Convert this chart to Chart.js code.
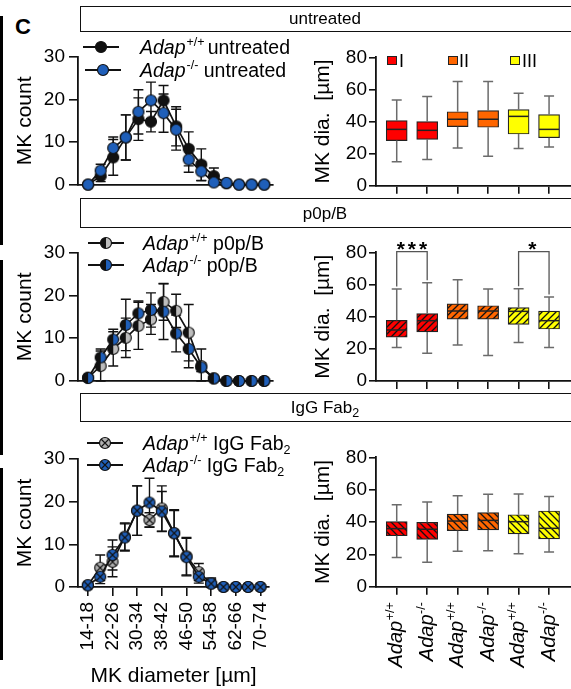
<!DOCTYPE html>
<html>
<head>
<meta charset="utf-8">
<script src="https://cdn.jsdelivr.net/npm/chart.js@4.4.1/dist/chart.umd.min.js"></script>
<style>
html,body{margin:0;padding:0;background:#fff}
body{width:571px;height:689px;position:relative;overflow:hidden;font-family:Arial,"Liberation Sans",Helvetica,sans-serif;color:#000}
.abs{position:absolute}
canvas{position:absolute}
.hdr{position:absolute;left:80px;width:500px;border:1.5px solid #111;box-sizing:border-box;z-index:1}
.hdr div{position:absolute;left:-1.5px;width:491px;text-align:center;font-size:17px;line-height:17px}
.leg{position:absolute;font-size:19.5px;line-height:19px;white-space:nowrap;z-index:3}
.sup{font-size:12.5px;position:relative;top:-8px;font-style:normal;margin-left:1px}
.sub{font-size:12.5px;position:relative;top:4px}
.bar{position:absolute;left:0;width:2.5px;background:#000}
.sq{position:absolute;width:8px;height:7px;border:1px solid #222;z-index:3}
.sql{position:absolute;font-size:18px;line-height:18px;z-index:3}
.mk{position:absolute;z-index:3}
</style>
</head>
<body>
<div class="bar" style="top:16px;height:229px"></div>
<div class="bar" style="top:260px;height:195px"></div>
<div class="bar" style="top:468px;height:192px"></div>
<div class="abs" style="left:15px;top:16px;font-size:22px;line-height:22px;font-weight:bold">C</div>

<div class="hdr" style="top:6px;height:26px"><div style="top:3px">untreated</div></div>
<div class="hdr" style="top:198px;height:30px"><div style="top:5.5px">p0p/B</div></div>
<div class="hdr" style="top:393px;height:29px"><div style="top:5px">IgG Fab<span class="sub">2</span></div></div>

<canvas id="cL1" width="290" height="200" style="left:0;top:0"></canvas>
<canvas id="cL2" width="290" height="200" style="left:0;top:200px"></canvas>
<canvas id="cL3" width="290" height="289" style="left:0;top:400px"></canvas>
<canvas id="cR1" width="281" height="200" style="left:290px;top:0"></canvas>
<canvas id="cR2" width="281" height="200" style="left:290px;top:200px"></canvas>
<canvas id="cR3" width="281" height="289" style="left:290px;top:400px"></canvas>

<canvas class="mk" id="m1" width="36" height="14" style="left:83px;top:40px"></canvas>
<canvas class="mk" id="m2" width="36" height="14" style="left:85px;top:63px"></canvas>
<canvas class="mk" id="m3" width="36" height="14" style="left:88px;top:236px"></canvas>
<canvas class="mk" id="m4" width="36" height="14" style="left:88px;top:258px"></canvas>
<canvas class="mk" id="m5" width="36" height="14" style="left:87px;top:436px"></canvas>
<canvas class="mk" id="m6" width="36" height="14" style="left:87px;top:458px"></canvas>

<div class="leg" style="left:140px;top:38px"><i>Adap</i><span class="sup">+/+</span><span style="margin-left:3px">untreated</span></div>
<div class="leg" style="left:140px;top:61px"><i>Adap</i><span class="sup">-/-</span> untreated</div>
<div class="leg" style="left:143px;top:234px"><i>Adap</i><span class="sup">+/+</span> p0p/B</div>
<div class="leg" style="left:143px;top:256px"><i>Adap</i><span class="sup">-/-</span> p0p/B</div>
<div class="leg" style="left:143px;top:434px"><i>Adap</i><span class="sup">+/+</span> IgG Fab<span class="sub">2</span></div>
<div class="leg" style="left:143px;top:456px"><i>Adap</i><span class="sup">-/-</span> IgG Fab<span class="sub">2</span></div>

<div class="sq" style="left:387px;top:56px;background:#ff0000"></div><div class="sql" style="left:399px;top:52px">I</div>
<div class="sq" style="left:448px;top:56px;background:#ff6600"></div><div class="sql" style="left:459px;top:52px">II</div>
<div class="sq" style="left:510px;top:56px;background:#ffff00"></div><div class="sql" style="left:522px;top:52px">III</div>

<script>
// ---------- data ----------
const binLabels = ['14-18','18-22','22-26','26-30','30-34','34-38','38-42','42-46','46-50','50-54','54-58','58-62','62-66','66-70','70-74'];
const labeledBins = [0,2,4,6,8,10,12,14];
const countTicks = [0,5,10,15,20,25,30];
const diaTicks = [0,20,40,60,80];

const untreatedWT    = [0, 2.0, 6.4, 11.1, 15.4, 14.8, 19.8, 13.7, 8.4, 4.7, 2.0, 0.3, 0, 0, 0];
const untreatedWTErr = [0, 1.3, 4.2, 5.3, 5.0, 2.4, 3.5, 4.6, 4.0, 3.7, 1.9, 0, 0, 0, 0];
const untreatedKO    = [0, 3.3, 8.6, 11.1, 17.1, 19.8, 16.8, 12.9, 5.9, 3.1, 0.5, 0.4, 0, 0, 0];
const untreatedKOErr = [0, 1.5, 2.6, 5.3, 5.2, 4.3, 4.5, 4.8, 3.0, 2.2, 0, 0, 0, 0, 0];

const p0pWT    = [0.8, 3.5, 7.5, 10.1, 12.9, 14.4, 18.5, 16.4, 11.3, 3.5, 0.6, 0, 0, 0, 0];
const p0pWTErr = [0, 3.5, 4.0, 4.6, 5.5, 3.5, 4.3, 3.9, 6.6, 4.0, 0, 0, 0, 0, 0];
const p0pKO    = [0.7, 5.5, 9.7, 13.1, 15.8, 16.6, 16.2, 11.1, 7.5, 3.2, 0.6, 0, 0, 0, 0];
const p0pKOErr = [0, 2.0, 2.4, 6.0, 2.9, 4.0, 6.5, 4.3, 4.4, 1.0, 0, 0, 0, 0, 0];

const fabWT    = [0.4, 4.5, 5.9, 11.8, 17.9, 15.7, 18.4, 12.6, 7.2, 3.5, 0.8, 0, 0, 0, 0];
const fabWTErr = [0, 3.0, 3.5, 3.2, 5.8, 1.7, 5.3, 5.5, 4.4, 2.0, 1.3, 0, 0, 0, 0];
const fabKO    = [0.4, 2.4, 7.5, 11.6, 17.9, 19.8, 17.7, 12.6, 7.0, 2.4, 0.8, 0, 0, 0, 0];
const fabKOErr = [0, 1.6, 3.5, 3.2, 5.8, 5.7, 4.7, 5.3, 4.4, 1.5, 1.0, 0, 0, 0, 0];

// box plots: [min, q1, median, q3, max]
const boxGenotypes = ['+/+','-/-','+/+','-/-','+/+','-/-'];
const boxGroupColors = ['#ff0000','#ff0000','#ff6600','#ff6600','#ffff00','#ffff00'];
const untreatedBoxes = [[15.0,28.1,35.1,40.5,53.4],[16.4,28.9,34.5,39.9,55.5],[23.5,36.8,41.4,46.1,65.0],[18.3,36.4,41.4,46.8,65.0],[23.1,32.2,43.2,47.4,57.6],[24.1,29.9,35.1,44.3,55.9]];
const p0pBoxes       = [[20.9,27.2,31.7,37.7,57.2],[17.2,30.5,37.5,41.9,61.1],[22.4,38.5,43.5,47.9,63.0],[15.8,38.5,43.5,46.8,57.2],[24.0,35.2,43.3,45.6,57.4],[20.9,32.3,37.5,43.5,52.2]];
const fabBoxes       = [[18.1,31.5,35.9,40.2,50.7],[15.1,29.3,35.5,39.8,52.4],[21.9,34.6,40.6,44.9,56.3],[22.3,35.1,41.0,45.8,57.1],[20.4,32.6,40.2,44.5,57.3],[21.4,29.5,36.1,46.8,55.7]];
const p0pSigPairs = [[0,1,'***'],[4,5,'*']];
const sigLevel = 80.4;

// ---------- styling helpers ----------
const BLUE = '#1f5fb9', LGRAY = '#bdbdbd', XGRAY = '#b0b0b0';
Chart.defaults.font.family = 'Arial, "Liberation Sans", Helvetica, sans-serif';
Chart.defaults.color = '#000';

function drawMarker(g, cx, cy, r, kind, fill) {
  g.save();
  g.lineWidth = 1.2; g.strokeStyle = '#111';
  g.beginPath(); g.arc(cx, cy, r, 0, 2*Math.PI); g.fillStyle = fill; g.fill();
  if (kind === 'half') {
    g.beginPath(); g.arc(cx, cy, r, Math.PI/2, Math.PI*1.5); g.closePath(); g.fillStyle = '#111'; g.fill();
  }
  if (kind === 'cross') {
    const d = r*0.68;
    g.beginPath(); g.moveTo(cx-d, cy-d); g.lineTo(cx+d, cy+d); g.moveTo(cx+d, cy-d); g.lineTo(cx-d, cy+d);
    g.lineWidth = 1.1; g.stroke(); g.lineWidth = 1.2;
  }
  g.beginPath(); g.arc(cx, cy, r, 0, 2*Math.PI); g.stroke();
  g.restore();
}
function markerImg(kind, fill) {
  const c = document.createElement('canvas'); c.width = 14; c.height = 14;
  drawMarker(c.getContext('2d'), 7, 7, 5.5, kind, fill);
  return c;
}
function legendMarker(id, kind, fill) {
  const c = document.getElementById(id), g = c.getContext('2d');
  g.strokeStyle = '#111'; g.lineWidth = 1.8;
  g.beginPath(); g.moveTo(0, 7); g.lineTo(36, 7); g.stroke();
  drawMarker(g, 18, 7, 5.5, kind, fill);
}
function hatch(color, dir) {
  const s = 7, c = document.createElement('canvas'); c.width = s; c.height = s;
  const g = c.getContext('2d'); g.fillStyle = color; g.fillRect(0, 0, s, s);
  g.strokeStyle = '#111'; g.lineWidth = 1.3; g.beginPath();
  if (dir === '/') { g.moveTo(-1, s+1); g.lineTo(s+1, -1); g.moveTo(-1, 1); g.lineTo(1, -1); g.moveTo(s-1, s+1); g.lineTo(s+1, s-1); }
  else { g.moveTo(-1, -1); g.lineTo(s+1, s+1); g.moveTo(s-1, -1); g.lineTo(s+1, 1); g.moveTo(-1, s-1); g.lineTo(1, s+1); }
  g.stroke();
  return g.createPattern(c, 'repeat');
}

// ---------- plugins ----------
const errorBarPlugin = {
  id: 'errbars',
  beforeDatasetsDraw(chart) {
    const ctx = chart.ctx, ys = chart.scales.y;
    chart.data.datasets.forEach((ds, di) => {
      if (!ds.errors) return;
      const meta = chart.getDatasetMeta(di);
      ctx.save(); ctx.strokeStyle = '#111'; ctx.lineWidth = 1.4;
      meta.data.forEach((pt, i) => {
        const e = ds.errors[i]; if (!e) return;
        const v = ds.data[i].y;
        const yt = ys.getPixelForValue(v + e), yb = ys.getPixelForValue(Math.max(0, v - e));
        const x = pt.x;
        ctx.beginPath();
        ctx.moveTo(x, yt); ctx.lineTo(x, yb);
        ctx.moveTo(x-5, yt); ctx.lineTo(x+5, yt);
        ctx.moveTo(x-5, yb); ctx.lineTo(x+5, yb);
        ctx.stroke();
      });
      ctx.restore();
    });
  }
};

const boxPlugin = {
  id: 'boxes',
  afterDatasetsDraw(chart) {
    const ctx = chart.ctx, xs = chart.scales.x, ys = chart.scales.y;
    const ds = chart.data.datasets[0];
    ctx.save();
    ds.boxes.forEach((b, i) => {
      const x = xs.getPixelForValue(i+1);
      const [mn, q1, md, q3, mx] = b.map(v => ys.getPixelForValue(v));
      ctx.strokeStyle = '#6b6b6b'; ctx.lineWidth = 1.5;
      ctx.beginPath();
      ctx.moveTo(x, q3); ctx.lineTo(x, mx); ctx.moveTo(x-5, mx); ctx.lineTo(x+5, mx);
      ctx.moveTo(x, q1); ctx.lineTo(x, mn); ctx.moveTo(x-5, mn); ctx.lineTo(x+5, mn);
      ctx.stroke();
      ctx.strokeStyle = '#222'; ctx.lineWidth = 1.5;
      ctx.beginPath(); ctx.moveTo(x-10, md); ctx.lineTo(x+10, md); ctx.stroke();
    });
    if (ds.sig) {
      ds.sig.forEach(([a, b, txt]) => {
        const xa = xs.getPixelForValue(a+1), xb = xs.getPixelForValue(b+1);
        const yt = ys.getPixelForValue(sigLevel);
        const ya = ys.getPixelForValue(ds.boxes[a][4] + 1.5), yb = ys.getPixelForValue(ds.boxes[b][4] + 1.5);
        ctx.strokeStyle = '#555'; ctx.lineWidth = 1.3;
        ctx.beginPath(); ctx.moveTo(xa, ya); ctx.lineTo(xa, yt); ctx.lineTo(xb, yt); ctx.lineTo(xb, yb); ctx.stroke();
        ctx.fillStyle = '#000'; ctx.font = 'bold 21px Arial, "Liberation Sans", sans-serif';
        ctx.textAlign = 'center'; ctx.textBaseline = 'alphabetic';
        if ('letterSpacing' in ctx) ctx.letterSpacing = '3px';
        ctx.fillText(txt, (xa+xb)/2 + (txt.length > 1 ? 1.5 : 0), yt + 4);
        if ('letterSpacing' in ctx) ctx.letterSpacing = '0px';
      });
    }
    if (ds.genotypes) {
      ds.genotypes.forEach((gt, i) => {
        const x = xs.getPixelForValue(i+1), y = xs.top + 15.5;
        ctx.save(); ctx.translate(x, y); ctx.rotate(-Math.PI/2);
        ctx.fillStyle = '#000'; ctx.textBaseline = 'middle'; ctx.textAlign = 'right';
        ctx.font = '12.5px Arial, "Liberation Sans", sans-serif';
        const sw = ctx.measureText(gt).width;
        ctx.fillText(gt, 0, -6);
        ctx.font = 'italic 20px Arial, "Liberation Sans", sans-serif';
        ctx.fillText('Adap', -sw - 0.5, 0);
        ctx.restore();
      });
    }
    ctx.restore();
  }
};

// ---------- chart builders ----------
function countChart(id, wt, wtErr, ko, koErr, wtImg, koImg, padTop, xHeight, showLabels) {
  const mk = (arr) => arr.map((v, i) => ({x: i, y: v}));
  return new Chart(document.getElementById(id), {
    type: 'line',
    data: { datasets: [
      { data: mk(wt), errors: wtErr, borderColor: '#111', borderWidth: 1.7, pointStyle: wtImg, pointRadius: 6, clip: false, order: 1, tension: 0 },
      { data: mk(ko), errors: koErr, borderColor: '#111', borderWidth: 1.7, pointStyle: koImg, pointRadius: 6, clip: false, order: 0, tension: 0 }
    ]},
    options: {
      responsive: false, animation: false, events: [],
      layout: { padding: { top: padTop, left: 0, right: 17, bottom: 0 } },
      plugins: { legend: { display: false }, tooltip: { enabled: false } },
      scales: {
        x: { type: 'linear', min: -0.8, max: 14.7, offset: false,
             afterBuildTicks: s => { s.ticks = labeledBins.map(v => ({ value: v })); },
             afterFit: s => { s.height = xHeight; },
             grid: { display: showLabels, offset: false, drawOnChartArea: false, drawTicks: true, tickLength: 9, color: '#111', lineWidth: 1.6 },
             border: { display: true, color: '#111', width: 1.8 },
             ticks: { display: showLabels, autoSkip: false, minRotation: 90, maxRotation: 90, padding: 6, font: { size: 19 }, callback: v => binLabels[v] },
             title: { display: showLabels, text: 'MK diameter [µm]', font: { size: 21 }, padding: { top: 0, bottom: 0 } } },
        y: { min: countTicks[0], max: countTicks[countTicks.length-1],
             afterBuildTicks: s => { s.ticks = countTicks.map(v => ({ value: v })); },
             afterFit: s => { s.width = 78; },
             grid: { drawOnChartArea: false, tickLength: 9, color: '#111', lineWidth: 1.6 },
             border: { color: '#111', width: 1.8 },
             ticks: { font: { size: 19 }, padding: 4 },
             title: { display: true, text: 'MK count', font: { size: 21 }, padding: { top: 12.9, bottom: 0 } } }
      }
    },
    plugins: [errorBarPlugin]
  });
}

function boxChart(id, boxes, fills, padTop, xHeight, sig, genotypes) {
  return new Chart(document.getElementById(id), {
    type: 'bar',
    data: { datasets: [{
      data: boxes.map((b, i) => ({ x: i+1, y: [b[1], b[3]] })),
      boxes: boxes, sig: sig, genotypes: genotypes,
      backgroundColor: fills, borderColor: '#222', borderWidth: 1.2, borderSkipped: false,
      barThickness: 21, clip: false
    }]},
    options: {
      responsive: false, animation: false, events: [],
      layout: { padding: { top: padTop, left: 0, right: 0, bottom: 0 } },
      plugins: { legend: { display: false }, tooltip: { enabled: false } },
      scales: {
        x: { type: 'linear', min: 0.32, max: 6.72, offset: false,
             afterBuildTicks: s => { s.ticks = boxes.map((b, i) => ({ value: i+1 })); },
             afterFit: s => { s.height = xHeight; },
             grid: { display: true, offset: false, drawOnChartArea: false, drawTicks: true, tickLength: 8, color: '#111', lineWidth: 1.6 },
             border: { color: '#111', width: 1.8 },
             ticks: { display: false } },
        y: { min: diaTicks[0], max: diaTicks[diaTicks.length-1],
             afterBuildTicks: s => { s.ticks = diaTicks.map(v => ({ value: v })); },
             afterFit: s => { s.width = 86; },
             grid: { drawOnChartArea: false, tickLength: 7, color: '#111', lineWidth: 1.6 },
             border: { color: '#111', width: 1.8 },
             ticks: { font: { size: 19 }, padding: 2 },
             title: { display: true, text: 'MK dia.  [µm]', font: { size: 21 }, padding: { top: 20.9, bottom: 0 } } }
      }
    },
    plugins: [boxPlugin]
  });
}

// ---------- build ----------
const mSolidBlack = markerImg('solid', '#111'), mSolidBlue = markerImg('solid', BLUE);
const mHalfGray = markerImg('half', LGRAY), mHalfBlue = markerImg('half', BLUE);
const mCrossGray = markerImg('cross', XGRAY), mCrossBlue = markerImg('cross', BLUE);

legendMarker('m1', 'solid', '#111'); legendMarker('m2', 'solid', BLUE);
legendMarker('m3', 'half', LGRAY);   legendMarker('m4', 'half', BLUE);
legendMarker('m5', 'cross', XGRAY);  legendMarker('m6', 'cross', BLUE);

countChart('cL1', untreatedWT, untreatedWTErr, untreatedKO, untreatedKOErr, mSolidBlack, mSolidBlue, 57, 14, false);
countChart('cL2', p0pWT, p0pWTErr, p0pKO, p0pKOErr, mHalfGray, mHalfBlue, 52.7, 19, false);
countChart('cL3', fabWT, fabWTErr, fabKO, fabKOErr, mCrossGray, mCrossBlue, 59, 102, true);

boxChart('cR1', untreatedBoxes, boxGroupColors, 57.3, 14.3, null, null);
boxChart('cR2', p0pBoxes, boxGroupColors.map(c => hatch(c, '/')), 52.3, 19, p0pSigPairs, null);
boxChart('cR3', fabBoxes, boxGroupColors.map(c => hatch(c, '\\')), 57.3, 102.3, null, boxGenotypes);
</script>
</body>
</html>
